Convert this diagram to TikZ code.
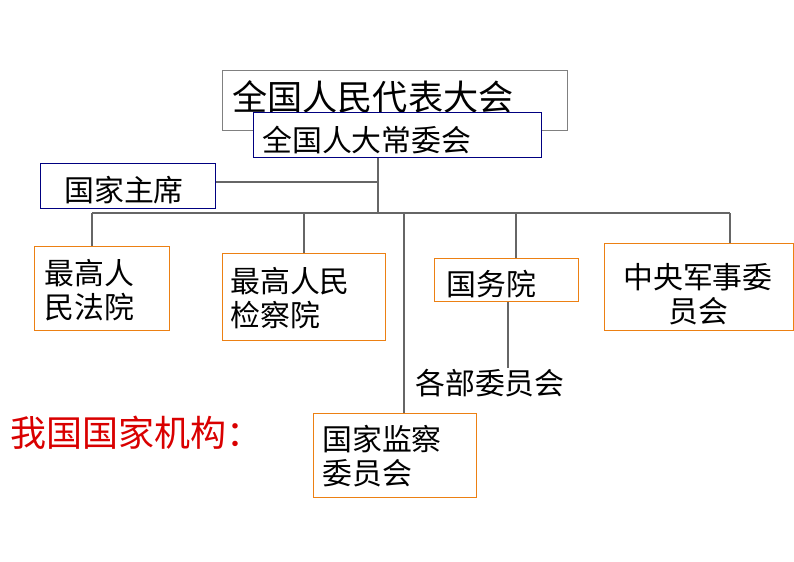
\documentclass[tikz,border=0pt]{standalone}
\usepackage{fontspec}
\newfontfamily\cjk{Noto Sans CJK SC}
\usetikzlibrary{positioning}
\begin{document}
\begin{tikzpicture}
  [
    x=0.02cm, y=-0.02cm,
    box/.style={draw=orange!70!brown, line width=0.8pt, inner sep=0pt},
    nbox/.style={draw=blue!50!black, line width=0.8pt, inner sep=0pt},
    txt/.style={inner sep=0pt, font=\cjk\fontsize{17}{19.5}\selectfont},
    ln/.style={draw=gray!80!black, line width=0.6pt}
  ]
  \useasboundingbox (0,0) rectangle (794,561);

  \node (npc) [draw=gray, line width=0.8pt, inner sep=0pt,
    minimum width=6.9cm, minimum height=1.2cm, anchor=north west] at (222,70) {};
  \node (npct) [anchor=west, inner sep=0pt, font=\cjk\fontsize{20}{24}\selectfont] at (232,97) {全国人民代表大会};
  \node (sc) [nbox, fill=white, minimum width=5.76cm, minimum height=0.9cm, anchor=north west] at (253,112) {};
  \node (sct) [txt, anchor=west] at (262,140) {全国人大常委会};
  \node (pres) [nbox, minimum width=3.5cm, minimum height=0.9cm, anchor=north west] at (40,163) {};
  \node (prest) [txt, anchor=west] at (64,190) {国家主席};

  \node (spc) [box, minimum width=2.7cm, minimum height=1.68cm, anchor=north west] at (34,246) {};
  \node (spct) [txt, anchor=west, align=left] at (44,290) {最高人\\民法院};
  \node (spp) [box, minimum width=3.26cm, minimum height=1.74cm, anchor=north west] at (222,253) {};
  \node (sppt) [txt, anchor=west, align=left] at (230,298) {最高人民\\检察院};
  \node (sco) [box, minimum width=2.88cm, minimum height=0.86cm, anchor=north west] at (434,258) {};
  \node (scot) [txt, anchor=west] at (446,284) {国务院};
  \node (cmc) [box, minimum width=3.78cm, minimum height=1.74cm, anchor=north west] at (604,243) {};
  \node (cmct) [txt, align=center] at (698,294) {中央军事委\\员会};
  \node (nsc) [box, minimum width=3.26cm, minimum height=1.68cm, anchor=north west] at (313,413) {};
  \node (nsct) [txt, anchor=west, align=left] at (322,456) {国家监察\\委员会};

  \node (dept) [txt, anchor=west] at (415,383) {各部委员会};
  \node (title) [anchor=west, inner sep=0pt, text=red!85!black, font=\cjk\fontsize{20.5}{24}\selectfont] at (10,433) {我国国家机构：};

  \coordinate (top) at (378,213);
  \coordinate (jp) at (378,182);
  \draw [ln] (sc.south -| top) -- (top);
  \draw [ln] (pres.east |- jp) -- (jp);
  \draw [ln] (92,213) -- (730,213);
  \draw [ln] (92,213) -- (spc.north -| 92,0);
  \draw [ln] (304,213) -- (spp.north -| 304,0);
  \draw [ln] (516,213) -- (sco.north -| 516,0);
  \draw [ln] (730,213) -- (cmc.north -| 730,0);
  \draw [ln] (404,213) -- (nsc.north -| 404,0);
  \draw [ln] (sco.south -| 508,0) -- (508,368);
\end{tikzpicture}
\end{document}
